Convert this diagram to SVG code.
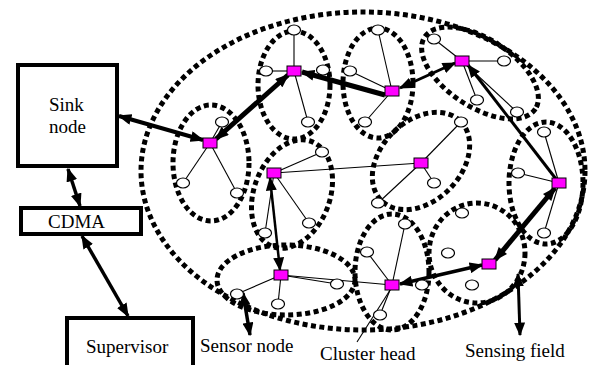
<svg xmlns="http://www.w3.org/2000/svg" width="592" height="365" viewBox="0 0 592 365">
<style>
.fld{fill:none;stroke:#000;stroke-width:5;stroke-dasharray:5 3.5}
.box{fill:#fff;stroke:#000;stroke-width:4}
.ch{fill:#ff00ff;stroke:#000;stroke-width:1}
.sn{fill:#fff;stroke:#000;stroke-width:1.2}
.tl{stroke:#000;stroke-width:1.1;fill:none}
.ar{stroke:#000;fill:none}
.t{font-family:"Liberation Serif","Times New Roman",serif;font-size:19px;fill:#000}
</style>
<defs>
<marker id="ah" viewBox="0 0 10 8" refX="9" refY="4" markerWidth="14" markerHeight="11" markerUnits="userSpaceOnUse" orient="auto-start-reverse"><path d="M0,0 L10,4 L0,8 z" fill="#000"/></marker>
</defs>
<rect width="592" height="365" fill="#fff"/>

<g id="fields">
<ellipse class="fld" cx="363" cy="171" rx="222" ry="159"/>
<ellipse class="fld" cx="211" cy="163" rx="38" ry="58"/>
<ellipse class="fld" cx="294" cy="85" rx="36" ry="54"/>
<ellipse class="fld" cx="378" cy="83" rx="35" ry="55"/>
<ellipse class="fld" cx="480" cy="73" rx="66" ry="34" transform="rotate(33 480 73)"/>
<ellipse class="fld" cx="421" cy="161" rx="56" ry="40" transform="rotate(-45 421 161)"/>
<ellipse class="fld" cx="292" cy="194" rx="38" ry="56" transform="rotate(20 292 194)"/>
<ellipse class="fld" cx="546" cy="183" rx="37" ry="61"/>
<ellipse class="fld" cx="286" cy="280" rx="69" ry="35"/>
<ellipse class="fld" cx="392" cy="272" rx="37" ry="58"/>
<ellipse class="fld" cx="477" cy="253" rx="48" ry="50"/>
</g>

<g id="connectors">
<g class="tl">
<line x1="210" y1="143" x2="222" y2="122"/><line x1="210" y1="143" x2="183" y2="183"/><line x1="210" y1="143" x2="237" y2="193"/>
<line x1="294" y1="71" x2="294" y2="30"/><line x1="294" y1="71" x2="266" y2="71"/><line x1="294" y1="71" x2="308" y2="122"/>
<line x1="392" y1="91" x2="378" y2="30"/><line x1="392" y1="91" x2="350" y2="71"/><line x1="392" y1="91" x2="365" y2="122"/>
<line x1="462" y1="61" x2="434" y2="39"/><line x1="462" y1="61" x2="504" y2="61"/><line x1="462" y1="61" x2="477" y2="100"/><line x1="462" y1="61" x2="517" y2="112"/>
<line x1="421" y1="163" x2="461" y2="122"/><line x1="421" y1="163" x2="434" y2="183"/><line x1="421" y1="163" x2="378" y2="203"/>
<line x1="274" y1="173" x2="421" y2="163"/>
<line x1="274" y1="173" x2="322" y2="152"/><line x1="274" y1="173" x2="309" y2="223"/><line x1="274" y1="173" x2="265" y2="233"/>
<line x1="559" y1="183" x2="544" y2="132"/><line x1="559" y1="183" x2="518" y2="173"/><line x1="559" y1="183" x2="544" y2="233"/>
<line x1="281" y1="275" x2="237" y2="294"/><line x1="281" y1="275" x2="278" y2="304"/><line x1="281" y1="275" x2="337" y2="284"/><line x1="281" y1="275" x2="392" y2="285"/>
<line x1="392" y1="285" x2="367" y2="252"/><line x1="392" y1="285" x2="405" y2="224"/><line x1="392" y1="285" x2="380" y2="315"/>
<line x1="392" y1="287" x2="357" y2="342"/>
</g>
<line class="ar" stroke-width="4" x1="119" y1="116" x2="203" y2="140" marker-start="url(#ah)" marker-end="url(#ah)"/>
<line class="ar" stroke-width="5" x1="216" y1="139" x2="288" y2="75" marker-start="url(#ah)" marker-end="url(#ah)"/>
<line class="ar" stroke-width="5" x1="385" y1="95" x2="302" y2="72" marker-end="url(#ah)"/>
<line class="ar" stroke-width="3" x1="400" y1="88" x2="455" y2="63" marker-start="url(#ah)" marker-end="url(#ah)"/>
<line class="ar" stroke-width="3" x1="556" y1="179" x2="468" y2="65" marker-end="url(#ah)"/>
<line class="ar" stroke-width="5" x1="555" y1="188" x2="495" y2="260" marker-start="url(#ah)" marker-end="url(#ah)"/>
<line class="ar" stroke-width="3.5" x1="482" y1="265" x2="400" y2="284" marker-start="url(#ah)" marker-end="url(#ah)"/>
<line class="ar" stroke-width="2.5" x1="270" y1="178" x2="280" y2="270" marker-start="url(#ah)" marker-end="url(#ah)"/>
<line class="ar" stroke-width="3.5" x1="68" y1="169" x2="80" y2="206" marker-start="url(#ah)" marker-end="url(#ah)"/>
<line class="ar" stroke-width="3.5" x1="82" y1="236" x2="128" y2="316" marker-start="url(#ah)" marker-end="url(#ah)"/>
<line class="ar" stroke-width="3.5" x1="243" y1="293" x2="250" y2="335" marker-start="url(#ah)" marker-end="url(#ah)"/>
<line class="ar" stroke-width="3" x1="518" y1="274" x2="520" y2="335" marker-start="url(#ah)" marker-end="url(#ah)"/>
</g>

<g id="sink">
<rect class="box" x="18" y="65" width="99" height="101"/>
<text class="t" x="49" y="111">Sink</text>
<text class="t" x="49" y="133">node</text>
</g>
<g id="cdma">
<rect class="box" x="21" y="208" width="120" height="26" stroke-width="3.5"/>
<text class="t" x="48" y="228">CDMA</text>
</g>
<g id="supervisor">
<rect class="box" x="67" y="318" width="126" height="60"/>
<text class="t" x="86" y="353">Supervisor</text>
</g>

<g id="cluster1"><ellipse class="sn" cx="222" cy="122" rx="6.5" ry="5"/><ellipse class="sn" cx="183" cy="183" rx="6.5" ry="5"/><ellipse class="sn" cx="237" cy="193" rx="6.5" ry="5"/><rect class="ch" x="203" y="138" width="14" height="10"/></g>
<g id="cluster2"><ellipse class="sn" cx="294" cy="30" rx="6.5" ry="5"/><ellipse class="sn" cx="266" cy="71" rx="6.5" ry="5"/><ellipse class="sn" cx="323" cy="70" rx="6.5" ry="5"/><ellipse class="sn" cx="308" cy="122" rx="6.5" ry="5"/><rect class="ch" x="287" y="66" width="14" height="10"/></g>
<g id="cluster3"><ellipse class="sn" cx="378" cy="30" rx="6.5" ry="5"/><ellipse class="sn" cx="350" cy="71" rx="6.5" ry="5"/><ellipse class="sn" cx="365" cy="122" rx="6.5" ry="5"/><rect class="ch" x="385" y="86" width="14" height="10"/></g>
<g id="cluster4"><ellipse class="sn" cx="434" cy="39" rx="6.5" ry="5"/><ellipse class="sn" cx="504" cy="61" rx="6.5" ry="5"/><ellipse class="sn" cx="477" cy="100" rx="6.5" ry="5"/><ellipse class="sn" cx="517" cy="112" rx="6.5" ry="5"/><rect class="ch" x="455" y="56" width="14" height="10"/></g>
<g id="cluster5"><ellipse class="sn" cx="461" cy="122" rx="6.5" ry="5"/><ellipse class="sn" cx="434" cy="183" rx="6.5" ry="5"/><ellipse class="sn" cx="378" cy="203" rx="6.5" ry="5"/><rect class="ch" x="414" y="158" width="14" height="10"/></g>
<g id="cluster6"><ellipse class="sn" cx="322" cy="152" rx="6.5" ry="5"/><ellipse class="sn" cx="309" cy="223" rx="6.5" ry="5"/><ellipse class="sn" cx="265" cy="233" rx="6.5" ry="5"/><rect class="ch" x="267" y="168" width="14" height="10"/></g>
<g id="cluster7"><ellipse class="sn" cx="544" cy="132" rx="6.5" ry="5"/><ellipse class="sn" cx="518" cy="173" rx="6.5" ry="5"/><ellipse class="sn" cx="544" cy="233" rx="6.5" ry="5"/><rect class="ch" x="552" y="178" width="14" height="10"/></g>
<g id="cluster8"><ellipse class="sn" cx="237" cy="294" rx="6.5" ry="5"/><ellipse class="sn" cx="278" cy="304" rx="6.5" ry="5"/><ellipse class="sn" cx="337" cy="284" rx="6.5" ry="5"/><rect class="ch" x="274" y="270" width="14" height="10"/></g>
<g id="cluster9"><ellipse class="sn" cx="367" cy="252" rx="6.5" ry="5"/><ellipse class="sn" cx="405" cy="224" rx="6.5" ry="5"/><ellipse class="sn" cx="380" cy="315" rx="6.5" ry="5"/><ellipse class="sn" cx="422" cy="285" rx="6.5" ry="5"/><rect class="ch" x="385" y="280" width="14" height="10"/></g>
<g id="cluster10"><ellipse class="sn" cx="462" cy="213" rx="6.5" ry="5"/><ellipse class="sn" cx="448" cy="253" rx="6.5" ry="5"/><ellipse class="sn" cx="472" cy="285" rx="6.5" ry="5"/><rect class="ch" x="482" y="259" width="14" height="10"/></g>

<g id="labels">
<text class="t" x="200" y="352">Sensor node</text>
<text class="t" x="320" y="360">Cluster head</text>
<text class="t" x="465" y="357">Sensing field</text>
</g>
</svg>
